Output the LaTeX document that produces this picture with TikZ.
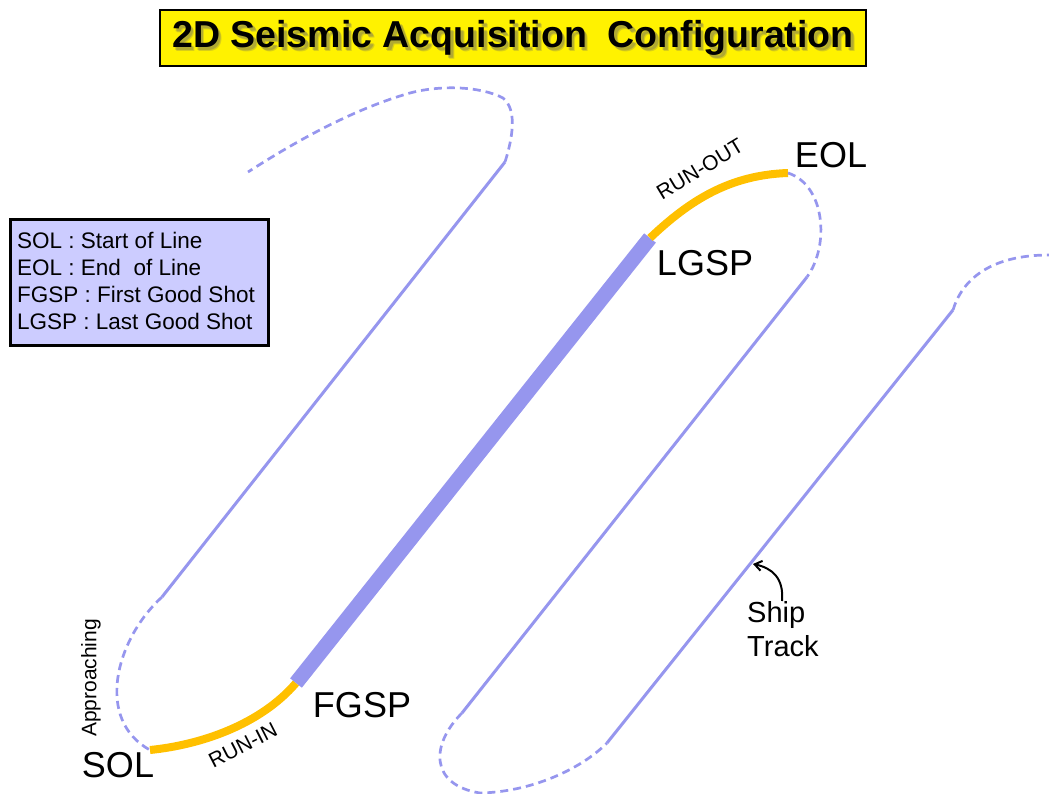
\documentclass[tikz,border=0pt]{standalone}
\usepackage{fontspec}
\setmainfont{Liberation Sans}
\usetikzlibrary{arrows.meta}
\definecolor{trackblue}{RGB}{150,150,238}
\definecolor{rungold}{RGB}{255,192,0}
\definecolor{legendfill}{RGB}{204,204,255}
\newcommand{\fsz}[1]{\fontsize{#1}{#1}\selectfont}

\begin{document}
\begin{tikzpicture}[x=1pt,y=-1pt,
  solidtrack/.style={draw=trackblue, line width=3pt},
  turntrack/.style={draw=trackblue, line width=2.7pt, dash pattern=on 8pt off 5pt},
  shotline/.style={draw=trackblue, line width=15pt},
  runline/.style={draw=rungold, line width=8pt},
  biglabel/.style={inner sep=0pt, font=\fsz{36}},
  smalllabel/.style={inner sep=0pt, font=\fsz{21}},
  legendline/.style={inner sep=0pt, anchor=west, font=\fsz{22.5}},
  titlefont/.style={inner sep=0pt, font=\fsz{37.5}\bfseries},
]
\useasboundingbox (0,0) rectangle (1049,794);

% title banner with a soft drop shadow behind the lettering
\node[draw=black, line width=1.2pt, fill=yellow, minimum width=706pt, minimum height=56pt, inner sep=0pt] (title) at (513,38) {};
\foreach \d/\o in {3.5/0.25, 2.5/0.35}
  \node[titlefont, text=black!60, opacity=\o] at ([xshift=\d pt, yshift=-\d pt]title.center) {2D Seismic Acquisition~~Configuration};
\node[titlefont] (titletext) at (title.center) {2D Seismic Acquisition~~Configuration};

% legend
\node[draw=black, line width=3pt, fill=legendfill, minimum width=258pt, minimum height=125pt, inner sep=0pt] (legend) at (139,282.5) {};
\node[legendline] (l1) at (17,240) {SOL : Start of Line};
\node[legendline] (l2) at (17,267) {EOL : End~~of Line};
\node[legendline] (l3) at (17,294) {FGSP : First Good Shot};
\node[legendline] (l4) at (17,321) {LGSP : Last Good Shot};

% key points along the tracks
\coordinate (t1a) at (162,597);
\coordinate (t1b) at (505,162);
\coordinate (t1end) at (248,172);
\coordinate (sol) at (150,750);
\coordinate (fgsp) at (296,683);
\coordinate (lgsp) at (650,238);
\coordinate (eol) at (788,173);
\coordinate (t3a) at (807,277);
\coordinate (t3b) at (462,713);
\coordinate (t4a) at (607,743);
\coordinate (t4b) at (953,310);
\coordinate (t4end) at (1049,255);

% previous line and its turn
\draw[solidtrack] (t1a) -- (t1b);
\draw[turntrack] (t1b) .. controls (512,140) and (518,110) .. (503,98)
  .. controls (480,86) and (440,85) .. (410,93)
  .. controls (350,110) and (290,145) .. (t1end);

% approach, run-in, production line, run-out
\draw[turntrack] (t1a) .. controls (115,640) and (95,720) .. (sol);
\draw[runline] (sol) .. controls (200,745) and (260,725) .. (fgsp);
\draw[shotline] (fgsp) -- (lgsp);
\draw[runline] (lgsp) .. controls (690,200) and (730,175) .. (eol);

% following lines
\draw[turntrack] (eol) .. controls (825,185) and (830,245) .. (t3a);
\draw[solidtrack] (t3a) -- (t3b);
\draw[turntrack] (t3b) .. controls (430,745) and (430,785) .. (480,793)
  .. controls (530,792) and (580,770) .. (t4a);
\draw[solidtrack] (t4a) -- (t4b);
\draw[turntrack] (t4b) .. controls (962,280) and (990,255) .. (t4end);

% labels
\node[biglabel] (sollab) at (118,765) {SOL};
\node[biglabel] (fgsplab) at (362,705) {FGSP};
\node[biglabel] (lgsplab) at (705,263) {LGSP};
\node[biglabel] (eollab) at (831,155) {EOL};
\node[smalllabel, rotate=90] (appr) at (91,678) {Approaching};
\node[smalllabel, rotate=27] (runin) at (243,745) {RUN-IN};
\node[smalllabel, rotate=31] (runout) at (700,169) {RUN-OUT};

% ship track pointer
\node[inner sep=0pt, anchor=north west, align=left, font=\fsz{29}] (shiptxt) at (747,601) {Ship\\[5pt]Track};
\coordinate (shippt) at (753,564);
\draw[line width=2pt, -{Straight Barb[length=7pt,width=10pt]}] (782,601) .. controls (784,578) and (772,568) .. (shippt);
\end{tikzpicture}
\end{document}
